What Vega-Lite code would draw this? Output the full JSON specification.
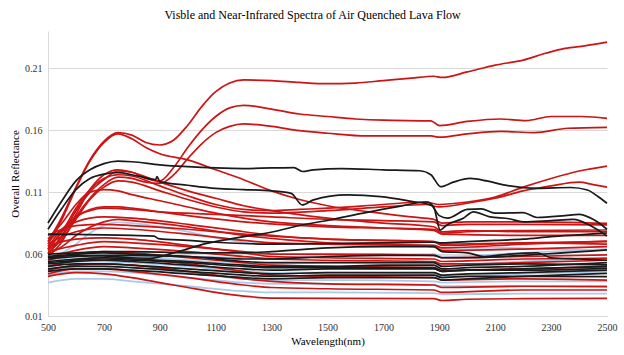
{
"$schema":"https://vega.github.io/schema/vega-lite/v6.json",
"width":559,"height":285,
"autosize":{"type":"none"},
"padding":{"left":48,"top":31,"right":17,"bottom":39},
"background":"white",
"title":{"text":"Visble and Near-Infrared Spectra of Air Quenched Lava Flow","font":"Times New Roman, Liberation Serif, serif","fontSize":12,"fontWeight":"normal","color":"#000000","anchor":"middle","dx":-15,"offset":9},
"config":{"view":{"stroke":null},"axis":{"labelFont":"Times New Roman, Liberation Serif, serif","labelFontSize":10,"labelColor":"#333333","titleFont":"Times New Roman, Liberation Serif, serif","titleFontSize":11,"titleFontWeight":"normal","titleColor":"#000000","domainColor":"#d9d9d9","gridColor":"#d9d9d9","ticks":false}},
"data":{"values":[
{"s":"b1","x":500,"y":0.058},{"s":"b1","x":550,"y":0.061},{"s":"b1","x":600,"y":0.068},{"s":"b1","x":650,"y":0.077},{"s":"b1","x":700,"y":0.083},{"s":"b1","x":750,"y":0.0855},{"s":"b1","x":800,"y":0.085},{"s":"b1","x":900,"y":0.082},{"s":"b1","x":1000,"y":0.078},{"s":"b1","x":1100,"y":0.073},{"s":"b1","x":1200,"y":0.0695},{"s":"b1","x":1300,"y":0.068},{"s":"b1","x":1500,"y":0.068},{"s":"b1","x":1700,"y":0.068},{"s":"b1","x":1880,"y":0.067},{"s":"b1","x":1910,"y":0.065},{"s":"b1","x":2100,"y":0.065},{"s":"b1","x":2300,"y":0.064},{"s":"b1","x":2500,"y":0.063},
{"s":"b2","x":500,"y":0.037},{"s":"b2","x":600,"y":0.04},{"s":"b2","x":700,"y":0.04},{"s":"b2","x":800,"y":0.038},{"s":"b2","x":1000,"y":0.034},{"s":"b2","x":1200,"y":0.03},{"s":"b2","x":1300,"y":0.029},{"s":"b2","x":1500,"y":0.029},{"s":"b2","x":1880,"y":0.0285},{"s":"b2","x":1910,"y":0.0275},{"s":"b2","x":2200,"y":0.028},{"s":"b2","x":2500,"y":0.028},
{"s":"b3","x":500,"y":0.043},{"s":"b3","x":600,"y":0.046},{"s":"b3","x":700,"y":0.046},{"s":"b3","x":800,"y":0.045},{"s":"b3","x":1000,"y":0.041},{"s":"b3","x":1200,"y":0.037},{"s":"b3","x":1300,"y":0.036},{"s":"b3","x":1500,"y":0.036},{"s":"b3","x":1880,"y":0.035},{"s":"b3","x":1910,"y":0.034},{"s":"b3","x":2200,"y":0.034},{"s":"b3","x":2500,"y":0.034},
{"s":"b4","x":500,"y":0.05},{"s":"b4","x":600,"y":0.054},{"s":"b4","x":700,"y":0.054},{"s":"b4","x":800,"y":0.053},{"s":"b4","x":1000,"y":0.05},{"s":"b4","x":1200,"y":0.046},{"s":"b4","x":1300,"y":0.045},{"s":"b4","x":1500,"y":0.045},{"s":"b4","x":1880,"y":0.044},{"s":"b4","x":1910,"y":0.042},{"s":"b4","x":2200,"y":0.044},{"s":"b4","x":2500,"y":0.046},
{"s":"b5","x":500,"y":0.054},{"s":"b5","x":600,"y":0.058},{"s":"b5","x":700,"y":0.059},{"s":"b5","x":800,"y":0.058},{"s":"b5","x":1000,"y":0.055},{"s":"b5","x":1200,"y":0.052},{"s":"b5","x":1300,"y":0.052},{"s":"b5","x":1500,"y":0.053},{"s":"b5","x":1880,"y":0.053},{"s":"b5","x":1910,"y":0.051},{"s":"b5","x":2200,"y":0.054},{"s":"b5","x":2500,"y":0.057},
{"s":"b6","x":500,"y":0.046},{"s":"b6","x":600,"y":0.05},{"s":"b6","x":700,"y":0.05},{"s":"b6","x":800,"y":0.049},{"s":"b6","x":1000,"y":0.045},{"s":"b6","x":1200,"y":0.04},{"s":"b6","x":1300,"y":0.039},{"s":"b6","x":1500,"y":0.039},{"s":"b6","x":1880,"y":0.038},{"s":"b6","x":1910,"y":0.037},{"s":"b6","x":2200,"y":0.038},{"s":"b6","x":2500,"y":0.038},
{"s":"b7","x":500,"y":0.052},{"s":"b7","x":600,"y":0.056},{"s":"b7","x":700,"y":0.058},{"s":"b7","x":800,"y":0.058},{"s":"b7","x":1000,"y":0.058},{"s":"b7","x":1200,"y":0.057},{"s":"b7","x":1300,"y":0.057},{"s":"b7","x":1500,"y":0.059},{"s":"b7","x":1880,"y":0.06},{"s":"b7","x":1910,"y":0.058},{"s":"b7","x":2200,"y":0.061},{"s":"b7","x":2500,"y":0.064},
{"s":"r1","x":500,"y":0.07},{"s":"r1","x":550,"y":0.09},{"s":"r1","x":600,"y":0.114},{"s":"r1","x":650,"y":0.136},{"s":"r1","x":700,"y":0.151},{"s":"r1","x":750,"y":0.158},{"s":"r1","x":800,"y":0.156},{"s":"r1","x":850,"y":0.15},{"s":"r1","x":900,"y":0.148},{"s":"r1","x":950,"y":0.152},{"s":"r1","x":1000,"y":0.164},{"s":"r1","x":1050,"y":0.179},{"s":"r1","x":1100,"y":0.191},{"s":"r1","x":1150,"y":0.198},{"s":"r1","x":1200,"y":0.2005},{"s":"r1","x":1300,"y":0.2},{"s":"r1","x":1400,"y":0.1985},{"s":"r1","x":1500,"y":0.1975},{"s":"r1","x":1600,"y":0.198},{"s":"r1","x":1700,"y":0.2},{"s":"r1","x":1800,"y":0.202},{"s":"r1","x":1880,"y":0.2035},{"s":"r1","x":1910,"y":0.2025},{"s":"r1","x":2000,"y":0.207},{"s":"r1","x":2100,"y":0.2125},{"s":"r1","x":2200,"y":0.2165},{"s":"r1","x":2280,"y":0.222},{"s":"r1","x":2350,"y":0.226},{"s":"r1","x":2420,"y":0.228},{"s":"r1","x":2500,"y":0.231},
{"s":"r4","x":500,"y":0.068},{"s":"r4","x":550,"y":0.088},{"s":"r4","x":600,"y":0.113},{"s":"r4","x":650,"y":0.135},{"s":"r4","x":700,"y":0.15},{"s":"r4","x":750,"y":0.157},{"s":"r4","x":800,"y":0.153},{"s":"r4","x":850,"y":0.146},{"s":"r4","x":900,"y":0.141},{"s":"r4","x":1000,"y":0.136},{"s":"r4","x":1100,"y":0.128},{"s":"r4","x":1200,"y":0.12},{"s":"r4","x":1300,"y":0.111},{"s":"r4","x":1400,"y":0.104},{"s":"r4","x":1500,"y":0.099},{"s":"r4","x":1650,"y":0.094},{"s":"r4","x":1800,"y":0.09},{"s":"r4","x":1880,"y":0.088},{"s":"r4","x":1910,"y":0.085},{"s":"r4","x":2000,"y":0.086},{"s":"r4","x":2200,"y":0.086},{"s":"r4","x":2500,"y":0.0848},
{"s":"r2","x":500,"y":0.06},{"s":"r2","x":550,"y":0.075},{"s":"r2","x":600,"y":0.095},{"s":"r2","x":650,"y":0.11},{"s":"r2","x":700,"y":0.12},{"s":"r2","x":750,"y":0.127},{"s":"r2","x":800,"y":0.126},{"s":"r2","x":850,"y":0.121},{"s":"r2","x":900,"y":0.119},{"s":"r2","x":950,"y":0.13},{"s":"r2","x":1000,"y":0.146},{"s":"r2","x":1050,"y":0.16},{"s":"r2","x":1100,"y":0.171},{"s":"r2","x":1150,"y":0.178},{"s":"r2","x":1200,"y":0.18},{"s":"r2","x":1300,"y":0.177},{"s":"r2","x":1400,"y":0.173},{"s":"r2","x":1500,"y":0.171},{"s":"r2","x":1600,"y":0.169},{"s":"r2","x":1700,"y":0.168},{"s":"r2","x":1870,"y":0.1675},{"s":"r2","x":1900,"y":0.1637},{"s":"r2","x":2000,"y":0.167},{"s":"r2","x":2120,"y":0.169},{"s":"r2","x":2210,"y":0.1677},{"s":"r2","x":2300,"y":0.171},{"s":"r2","x":2410,"y":0.171},{"s":"r2","x":2500,"y":0.1695},
{"s":"r3","x":500,"y":0.058},{"s":"r3","x":550,"y":0.07},{"s":"r3","x":600,"y":0.09},{"s":"r3","x":650,"y":0.105},{"s":"r3","x":700,"y":0.116},{"s":"r3","x":750,"y":0.122},{"s":"r3","x":800,"y":0.121},{"s":"r3","x":850,"y":0.118},{"s":"r3","x":900,"y":0.117},{"s":"r3","x":950,"y":0.124},{"s":"r3","x":1000,"y":0.137},{"s":"r3","x":1050,"y":0.149},{"s":"r3","x":1100,"y":0.158},{"s":"r3","x":1150,"y":0.163},{"s":"r3","x":1200,"y":0.165},{"s":"r3","x":1300,"y":0.163},{"s":"r3","x":1400,"y":0.1596},{"s":"r3","x":1500,"y":0.1575},{"s":"r3","x":1640,"y":0.1553},{"s":"r3","x":1870,"y":0.1553},{"s":"r3","x":1900,"y":0.1543},{"s":"r3","x":2000,"y":0.157},{"s":"r3","x":2120,"y":0.159},{"s":"r3","x":2240,"y":0.158},{"s":"r3","x":2360,"y":0.1615},{"s":"r3","x":2500,"y":0.1623},
{"s":"r5","x":500,"y":0.064},{"s":"r5","x":550,"y":0.078},{"s":"r5","x":600,"y":0.097},{"s":"r5","x":650,"y":0.112},{"s":"r5","x":700,"y":0.121},{"s":"r5","x":750,"y":0.124},{"s":"r5","x":800,"y":0.123},{"s":"r5","x":900,"y":0.115},{"s":"r5","x":1000,"y":0.107},{"s":"r5","x":1100,"y":0.1},{"s":"r5","x":1200,"y":0.096},{"s":"r5","x":1300,"y":0.095},{"s":"r5","x":1400,"y":0.096},{"s":"r5","x":1500,"y":0.097},{"s":"r5","x":1700,"y":0.1},{"s":"r5","x":1850,"y":0.102},{"s":"r5","x":1900,"y":0.1},{"s":"r5","x":2000,"y":0.102},{"s":"r5","x":2100,"y":0.106},{"s":"r5","x":2200,"y":0.114},{"s":"r5","x":2300,"y":0.121},{"s":"r5","x":2400,"y":0.127},{"s":"r5","x":2500,"y":0.131},
{"s":"r6","x":500,"y":0.061},{"s":"r6","x":550,"y":0.072},{"s":"r6","x":600,"y":0.088},{"s":"r6","x":650,"y":0.104},{"s":"r6","x":700,"y":0.114},{"s":"r6","x":750,"y":0.119},{"s":"r6","x":800,"y":0.118},{"s":"r6","x":900,"y":0.111},{"s":"r6","x":1000,"y":0.104},{"s":"r6","x":1100,"y":0.098},{"s":"r6","x":1200,"y":0.094},{"s":"r6","x":1300,"y":0.093},{"s":"r6","x":1500,"y":0.095},{"s":"r6","x":1700,"y":0.098},{"s":"r6","x":1850,"y":0.1},{"s":"r6","x":1900,"y":0.098},{"s":"r6","x":2000,"y":0.101},{"s":"r6","x":2100,"y":0.105},{"s":"r6","x":2200,"y":0.111},{"s":"r6","x":2300,"y":0.115},{"s":"r6","x":2400,"y":0.118},{"s":"r6","x":2450,"y":0.116},{"s":"r6","x":2500,"y":0.114},
{"s":"r7","x":500,"y":0.063},{"s":"r7","x":550,"y":0.074},{"s":"r7","x":600,"y":0.092},{"s":"r7","x":650,"y":0.112},{"s":"r7","x":700,"y":0.124},{"s":"r7","x":750,"y":0.128},{"s":"r7","x":800,"y":0.126},{"s":"r7","x":900,"y":0.118},{"s":"r7","x":1000,"y":0.111},{"s":"r7","x":1100,"y":0.105},{"s":"r7","x":1200,"y":0.099},{"s":"r7","x":1300,"y":0.095},{"s":"r7","x":1500,"y":0.089},{"s":"r7","x":1700,"y":0.085},{"s":"r7","x":1880,"y":0.082},{"s":"r7","x":1910,"y":0.078},{"s":"r7","x":2000,"y":0.079},{"s":"r7","x":2200,"y":0.078},{"s":"r7","x":2500,"y":0.078},
{"s":"r8","x":500,"y":0.064},{"s":"r8","x":550,"y":0.078},{"s":"r8","x":600,"y":0.09},{"s":"r8","x":650,"y":0.095},{"s":"r8","x":700,"y":0.097},{"s":"r8","x":800,"y":0.096},{"s":"r8","x":900,"y":0.094},{"s":"r8","x":1100,"y":0.092},{"s":"r8","x":1300,"y":0.09},{"s":"r8","x":1500,"y":0.088},{"s":"r8","x":1700,"y":0.087},{"s":"r8","x":1880,"y":0.086},{"s":"r8","x":1910,"y":0.083},{"s":"r8","x":2000,"y":0.084},{"s":"r8","x":2200,"y":0.084},{"s":"r8","x":2500,"y":0.0835},
{"s":"r9","x":500,"y":0.066},{"s":"r9","x":550,"y":0.08},{"s":"r9","x":600,"y":0.09},{"s":"r9","x":650,"y":0.096},{"s":"r9","x":700,"y":0.098},{"s":"r9","x":750,"y":0.098},{"s":"r9","x":800,"y":0.097},{"s":"r9","x":900,"y":0.094},{"s":"r9","x":1000,"y":0.091},{"s":"r9","x":1200,"y":0.086},{"s":"r9","x":1500,"y":0.082},{"s":"r9","x":1700,"y":0.081},{"s":"r9","x":1880,"y":0.08},{"s":"r9","x":1910,"y":0.077},{"s":"r9","x":2000,"y":0.078},{"s":"r9","x":2200,"y":0.079},{"s":"r9","x":2500,"y":0.0794},
{"s":"r10","x":500,"y":0.07},{"s":"r10","x":550,"y":0.08},{"s":"r10","x":600,"y":0.086},{"s":"r10","x":700,"y":0.09},{"s":"r10","x":800,"y":0.089},{"s":"r10","x":1000,"y":0.084},{"s":"r10","x":1200,"y":0.078},{"s":"r10","x":1300,"y":0.075},{"s":"r10","x":1500,"y":0.072},{"s":"r10","x":1700,"y":0.071},{"s":"r10","x":1880,"y":0.07},{"s":"r10","x":1910,"y":0.067},{"s":"r10","x":2200,"y":0.069},{"s":"r10","x":2500,"y":0.07},
{"s":"r11","x":500,"y":0.06},{"s":"r11","x":550,"y":0.066},{"s":"r11","x":600,"y":0.075},{"s":"r11","x":700,"y":0.086},{"s":"r11","x":750,"y":0.088},{"s":"r11","x":800,"y":0.087},{"s":"r11","x":1000,"y":0.082},{"s":"r11","x":1200,"y":0.075},{"s":"r11","x":1500,"y":0.069},{"s":"r11","x":1880,"y":0.066},{"s":"r11","x":1910,"y":0.063},{"s":"r11","x":2200,"y":0.064},{"s":"r11","x":2500,"y":0.066},
{"s":"r12","x":500,"y":0.068},{"s":"r12","x":550,"y":0.074},{"s":"r12","x":600,"y":0.078},{"s":"r12","x":700,"y":0.081},{"s":"r12","x":800,"y":0.08},{"s":"r12","x":1000,"y":0.076},{"s":"r12","x":1200,"y":0.071},{"s":"r12","x":1300,"y":0.069},{"s":"r12","x":1500,"y":0.068},{"s":"r12","x":1880,"y":0.067},{"s":"r12","x":1910,"y":0.065},{"s":"r12","x":2200,"y":0.068},{"s":"r12","x":2500,"y":0.0705},
{"s":"r13","x":500,"y":0.062},{"s":"r13","x":600,"y":0.067},{"s":"r13","x":700,"y":0.07},{"s":"r13","x":800,"y":0.069},{"s":"r13","x":1000,"y":0.066},{"s":"r13","x":1200,"y":0.062},{"s":"r13","x":1300,"y":0.06},{"s":"r13","x":1500,"y":0.06},{"s":"r13","x":1880,"y":0.059},{"s":"r13","x":1910,"y":0.057},{"s":"r13","x":2200,"y":0.058},{"s":"r13","x":2500,"y":0.0593},
{"s":"r14","x":500,"y":0.066},{"s":"r14","x":550,"y":0.07},{"s":"r14","x":600,"y":0.072},{"s":"r14","x":700,"y":0.073},{"s":"r14","x":800,"y":0.072},{"s":"r14","x":1000,"y":0.067},{"s":"r14","x":1200,"y":0.061},{"s":"r14","x":1300,"y":0.058},{"s":"r14","x":1500,"y":0.057},{"s":"r14","x":1880,"y":0.056},{"s":"r14","x":1910,"y":0.054},{"s":"r14","x":2200,"y":0.056},{"s":"r14","x":2500,"y":0.0566},
{"s":"r15","x":500,"y":0.057},{"s":"r15","x":600,"y":0.063},{"s":"r15","x":700,"y":0.066},{"s":"r15","x":800,"y":0.065},{"s":"r15","x":1000,"y":0.062},{"s":"r15","x":1200,"y":0.058},{"s":"r15","x":1300,"y":0.056},{"s":"r15","x":1500,"y":0.055},{"s":"r15","x":1880,"y":0.054},{"s":"r15","x":1910,"y":0.052},{"s":"r15","x":2200,"y":0.053},{"s":"r15","x":2500,"y":0.055},
{"s":"r16","x":500,"y":0.055},{"s":"r16","x":600,"y":0.06},{"s":"r16","x":700,"y":0.062},{"s":"r16","x":800,"y":0.061},{"s":"r16","x":1000,"y":0.057},{"s":"r16","x":1200,"y":0.053},{"s":"r16","x":1300,"y":0.051},{"s":"r16","x":1500,"y":0.05},{"s":"r16","x":1880,"y":0.049},{"s":"r16","x":1910,"y":0.047},{"s":"r16","x":2200,"y":0.048},{"s":"r16","x":2500,"y":0.0498},
{"s":"r17","x":500,"y":0.05},{"s":"r17","x":600,"y":0.055},{"s":"r17","x":700,"y":0.057},{"s":"r17","x":800,"y":0.056},{"s":"r17","x":1000,"y":0.052},{"s":"r17","x":1200,"y":0.046},{"s":"r17","x":1300,"y":0.043},{"s":"r17","x":1500,"y":0.042},{"s":"r17","x":1880,"y":0.041},{"s":"r17","x":1910,"y":0.039},{"s":"r17","x":2200,"y":0.04},{"s":"r17","x":2500,"y":0.039},
{"s":"r18","x":500,"y":0.047},{"s":"r18","x":600,"y":0.051},{"s":"r18","x":700,"y":0.052},{"s":"r18","x":800,"y":0.051},{"s":"r18","x":1000,"y":0.046},{"s":"r18","x":1200,"y":0.04},{"s":"r18","x":1300,"y":0.038},{"s":"r18","x":1500,"y":0.036},{"s":"r18","x":1880,"y":0.035},{"s":"r18","x":1910,"y":0.033},{"s":"r18","x":2200,"y":0.034},{"s":"r18","x":2500,"y":0.0337},
{"s":"r19","x":500,"y":0.044},{"s":"r19","x":600,"y":0.048},{"s":"r19","x":700,"y":0.048},{"s":"r19","x":800,"y":0.046},{"s":"r19","x":1000,"y":0.041},{"s":"r19","x":1200,"y":0.035},{"s":"r19","x":1300,"y":0.033},{"s":"r19","x":1500,"y":0.032},{"s":"r19","x":1880,"y":0.031},{"s":"r19","x":1910,"y":0.029},{"s":"r19","x":2200,"y":0.031},{"s":"r19","x":2500,"y":0.031},
{"s":"r20","x":500,"y":0.042},{"s":"r20","x":600,"y":0.045},{"s":"r20","x":700,"y":0.044},{"s":"r20","x":800,"y":0.041},{"s":"r20","x":900,"y":0.037},{"s":"r20","x":1000,"y":0.033},{"s":"r20","x":1100,"y":0.029},{"s":"r20","x":1200,"y":0.026},{"s":"r20","x":1300,"y":0.0245},{"s":"r20","x":1500,"y":0.0243},{"s":"r20","x":1880,"y":0.024},{"s":"r20","x":1910,"y":0.0225},{"s":"r20","x":2000,"y":0.0235},{"s":"r20","x":2200,"y":0.024},{"s":"r20","x":2500,"y":0.0243},
{"s":"r21","x":500,"y":0.072},{"s":"r21","x":550,"y":0.085},{"s":"r21","x":600,"y":0.1},{"s":"r21","x":650,"y":0.11},{"s":"r21","x":700,"y":0.112},{"s":"r21","x":750,"y":0.111},{"s":"r21","x":800,"y":0.108},{"s":"r21","x":900,"y":0.103},{"s":"r21","x":1000,"y":0.098},{"s":"r21","x":1100,"y":0.093},{"s":"r21","x":1200,"y":0.089},{"s":"r21","x":1300,"y":0.086},{"s":"r21","x":1500,"y":0.083},{"s":"r21","x":1700,"y":0.081},{"s":"r21","x":1880,"y":0.079},{"s":"r21","x":1910,"y":0.076},{"s":"r21","x":2200,"y":0.075},{"s":"r21","x":2500,"y":0.075},
{"s":"r22","x":500,"y":0.075},{"s":"r22","x":550,"y":0.08},{"s":"r22","x":600,"y":0.083},{"s":"r22","x":700,"y":0.084},{"s":"r22","x":800,"y":0.083},{"s":"r22","x":1000,"y":0.08},{"s":"r22","x":1200,"y":0.076},{"s":"r22","x":1500,"y":0.072},{"s":"r22","x":1880,"y":0.07},{"s":"r22","x":1910,"y":0.068},{"s":"r22","x":2200,"y":0.069},{"s":"r22","x":2500,"y":0.068},
{"s":"k1","x":500,"y":0.085},{"s":"k1","x":550,"y":0.103},{"s":"k1","x":600,"y":0.119},{"s":"k1","x":650,"y":0.128},{"s":"k1","x":700,"y":0.133},{"s":"k1","x":750,"y":0.135},{"s":"k1","x":800,"y":0.1345},{"s":"k1","x":900,"y":0.132},{"s":"k1","x":1000,"y":0.1305},{"s":"k1","x":1100,"y":0.1295},{"s":"k1","x":1200,"y":0.129},{"s":"k1","x":1300,"y":0.1295},{"s":"k1","x":1380,"y":0.1298},{"s":"k1","x":1410,"y":0.1266},{"s":"k1","x":1450,"y":0.128},{"s":"k1","x":1550,"y":0.129},{"s":"k1","x":1700,"y":0.128},{"s":"k1","x":1830,"y":0.1272},{"s":"k1","x":1870,"y":0.124},{"s":"k1","x":1905,"y":0.1144},{"s":"k1","x":1950,"y":0.118},{"s":"k1","x":2010,"y":0.121},{"s":"k1","x":2070,"y":0.119},{"s":"k1","x":2130,"y":0.1158},{"s":"k1","x":2250,"y":0.113},{"s":"k1","x":2370,"y":0.1137},{"s":"k1","x":2430,"y":0.1117},{"s":"k1","x":2470,"y":0.106},{"s":"k1","x":2500,"y":0.101},
{"s":"k2","x":500,"y":0.08},{"s":"k2","x":550,"y":0.097},{"s":"k2","x":600,"y":0.112},{"s":"k2","x":650,"y":0.121},{"s":"k2","x":700,"y":0.1245},{"s":"k2","x":750,"y":0.1257},{"s":"k2","x":800,"y":0.124},{"s":"k2","x":850,"y":0.1215},{"s":"k2","x":885,"y":0.12},{"s":"k2","x":890,"y":0.1225},{"s":"k2","x":900,"y":0.1185},{"s":"k2","x":1000,"y":0.1155},{"s":"k2","x":1100,"y":0.113},{"s":"k2","x":1200,"y":0.112},{"s":"k2","x":1300,"y":0.111},{"s":"k2","x":1370,"y":0.109},{"s":"k2","x":1410,"y":0.0996},{"s":"k2","x":1450,"y":0.1037},{"s":"k2","x":1570,"y":0.1077},{"s":"k2","x":1690,"y":0.1063},{"s":"k2","x":1800,"y":0.1025},{"s":"k2","x":1870,"y":0.0996},{"s":"k2","x":1900,"y":0.091},{"s":"k2","x":1930,"y":0.089},{"s":"k2","x":2000,"y":0.096},{"s":"k2","x":2050,"y":0.0965},{"s":"k2","x":2100,"y":0.093},{"s":"k2","x":2200,"y":0.0935},{"s":"k2","x":2250,"y":0.0895},{"s":"k2","x":2350,"y":0.091},{"s":"k2","x":2400,"y":0.092},{"s":"k2","x":2450,"y":0.088},{"s":"k2","x":2500,"y":0.08},
{"s":"k3","x":500,"y":0.057},{"s":"k3","x":600,"y":0.059},{"s":"k3","x":700,"y":0.0585},{"s":"k3","x":800,"y":0.057},{"s":"k3","x":865,"y":0.0566},{"s":"k3","x":950,"y":0.061},{"s":"k3","x":1068,"y":0.0686},{"s":"k3","x":1200,"y":0.074},{"s":"k3","x":1306,"y":0.078},{"s":"k3","x":1400,"y":0.083},{"s":"k3","x":1509,"y":0.0875},{"s":"k3","x":1628,"y":0.093},{"s":"k3","x":1747,"y":0.098},{"s":"k3","x":1855,"y":0.102},{"s":"k3","x":1880,"y":0.098},{"s":"k3","x":1903,"y":0.0794},{"s":"k3","x":1927,"y":0.0835},{"s":"k3","x":1986,"y":0.0889},{"s":"k3","x":2022,"y":0.094},{"s":"k3","x":2081,"y":0.09},{"s":"k3","x":2150,"y":0.0885},{"s":"k3","x":2200,"y":0.086},{"s":"k3","x":2300,"y":0.087},{"s":"k3","x":2380,"y":0.088},{"s":"k3","x":2440,"y":0.083},{"s":"k3","x":2500,"y":0.0745},
{"s":"k4","x":500,"y":0.076},{"s":"k4","x":600,"y":0.0758},{"s":"k4","x":700,"y":0.0755},{"s":"k4","x":800,"y":0.075},{"s":"k4","x":880,"y":0.0745},{"s":"k4","x":895,"y":0.0725},{"s":"k4","x":1000,"y":0.071},{"s":"k4","x":1100,"y":0.0695},{"s":"k4","x":1200,"y":0.0685},{"s":"k4","x":1300,"y":0.068},{"s":"k4","x":1500,"y":0.0685},{"s":"k4","x":1700,"y":0.069},{"s":"k4","x":1880,"y":0.0695},{"s":"k4","x":1910,"y":0.069},{"s":"k4","x":2000,"y":0.07},{"s":"k4","x":2100,"y":0.071},{"s":"k4","x":2200,"y":0.072},{"s":"k4","x":2300,"y":0.074},{"s":"k4","x":2400,"y":0.0755},{"s":"k4","x":2500,"y":0.077},
{"s":"k5","x":500,"y":0.06},{"s":"k5","x":600,"y":0.061},{"s":"k5","x":700,"y":0.062},{"s":"k5","x":800,"y":0.062},{"s":"k5","x":1000,"y":0.061},{"s":"k5","x":1200,"y":0.061},{"s":"k5","x":1300,"y":0.062},{"s":"k5","x":1500,"y":0.065},{"s":"k5","x":1700,"y":0.066},{"s":"k5","x":1880,"y":0.066},{"s":"k5","x":1910,"y":0.062},{"s":"k5","x":2000,"y":0.061},{"s":"k5","x":2060,"y":0.058},{"s":"k5","x":2150,"y":0.06},{"s":"k5","x":2250,"y":0.061},{"s":"k5","x":2300,"y":0.057},{"s":"k5","x":2400,"y":0.056},{"s":"k5","x":2500,"y":0.055},
{"s":"k6","x":500,"y":0.056},{"s":"k6","x":600,"y":0.058},{"s":"k6","x":700,"y":0.059},{"s":"k6","x":800,"y":0.059},{"s":"k6","x":1000,"y":0.058},{"s":"k6","x":1200,"y":0.056},{"s":"k6","x":1300,"y":0.056},{"s":"k6","x":1500,"y":0.058},{"s":"k6","x":1700,"y":0.059},{"s":"k6","x":1880,"y":0.059},{"s":"k6","x":1910,"y":0.057},{"s":"k6","x":2000,"y":0.057},{"s":"k6","x":2200,"y":0.059},{"s":"k6","x":2500,"y":0.0633},
{"s":"k7","x":500,"y":0.054},{"s":"k7","x":600,"y":0.056},{"s":"k7","x":700,"y":0.057},{"s":"k7","x":800,"y":0.056},{"s":"k7","x":1000,"y":0.054},{"s":"k7","x":1200,"y":0.051},{"s":"k7","x":1300,"y":0.05},{"s":"k7","x":1500,"y":0.05},{"s":"k7","x":1700,"y":0.051},{"s":"k7","x":1880,"y":0.051},{"s":"k7","x":1910,"y":0.048},{"s":"k7","x":2000,"y":0.049},{"s":"k7","x":2200,"y":0.05},{"s":"k7","x":2500,"y":0.053},
{"s":"k8","x":500,"y":0.052},{"s":"k8","x":600,"y":0.054},{"s":"k8","x":700,"y":0.055},{"s":"k8","x":800,"y":0.054},{"s":"k8","x":1000,"y":0.051},{"s":"k8","x":1200,"y":0.048},{"s":"k8","x":1300,"y":0.047},{"s":"k8","x":1500,"y":0.048},{"s":"k8","x":1880,"y":0.048},{"s":"k8","x":1910,"y":0.046},{"s":"k8","x":2000,"y":0.047},{"s":"k8","x":2200,"y":0.048},{"s":"k8","x":2500,"y":0.05},
{"s":"k9","x":500,"y":0.05},{"s":"k9","x":600,"y":0.052},{"s":"k9","x":700,"y":0.052},{"s":"k9","x":800,"y":0.051},{"s":"k9","x":1000,"y":0.048},{"s":"k9","x":1200,"y":0.045},{"s":"k9","x":1300,"y":0.044},{"s":"k9","x":1500,"y":0.045},{"s":"k9","x":1880,"y":0.045},{"s":"k9","x":1910,"y":0.043},{"s":"k9","x":2000,"y":0.044},{"s":"k9","x":2200,"y":0.045},{"s":"k9","x":2500,"y":0.047},
{"s":"k10","x":500,"y":0.048},{"s":"k10","x":600,"y":0.05},{"s":"k10","x":700,"y":0.05},{"s":"k10","x":800,"y":0.049},{"s":"k10","x":1000,"y":0.046},{"s":"k10","x":1200,"y":0.043},{"s":"k10","x":1300,"y":0.042},{"s":"k10","x":1500,"y":0.043},{"s":"k10","x":1880,"y":0.043},{"s":"k10","x":1910,"y":0.041},{"s":"k10","x":2000,"y":0.042},{"s":"k10","x":2200,"y":0.042},{"s":"k10","x":2500,"y":0.0417},
{"s":"k11","x":500,"y":0.053},{"s":"k11","x":600,"y":0.055},{"s":"k11","x":700,"y":0.056},{"s":"k11","x":800,"y":0.055},{"s":"k11","x":1000,"y":0.053},{"s":"k11","x":1200,"y":0.05},{"s":"k11","x":1300,"y":0.049},{"s":"k11","x":1500,"y":0.049},{"s":"k11","x":1880,"y":0.049},{"s":"k11","x":1910,"y":0.046},{"s":"k11","x":2000,"y":0.047},{"s":"k11","x":2200,"y":0.047},{"s":"k11","x":2500,"y":0.0485},
{"s":"k12","x":500,"y":0.046},{"s":"k12","x":600,"y":0.048},{"s":"k12","x":700,"y":0.048},{"s":"k12","x":800,"y":0.047},{"s":"k12","x":1000,"y":0.044},{"s":"k12","x":1200,"y":0.041},{"s":"k12","x":1300,"y":0.04},{"s":"k12","x":1500,"y":0.041},{"s":"k12","x":1880,"y":0.041},{"s":"k12","x":1910,"y":0.039},{"s":"k12","x":2000,"y":0.04},{"s":"k12","x":2200,"y":0.042},{"s":"k12","x":2500,"y":0.0445},
{"s":"k13","x":500,"y":0.058},{"s":"k13","x":600,"y":0.06},{"s":"k13","x":700,"y":0.061},{"s":"k13","x":800,"y":0.06},{"s":"k13","x":1000,"y":0.058},{"s":"k13","x":1200,"y":0.054},{"s":"k13","x":1300,"y":0.053},{"s":"k13","x":1500,"y":0.053},{"s":"k13","x":1880,"y":0.053},{"s":"k13","x":1910,"y":0.05},{"s":"k13","x":2000,"y":0.051},{"s":"k13","x":2200,"y":0.052},{"s":"k13","x":2500,"y":0.0512}
]},
"encoding":{
"x":{"field":"x","type":"quantitative","scale":{"domain":[500,2500],"nice":false,"zero":false},"axis":{"title":"Wavelength(nm)","values":[500,700,900,1100,1300,1500,1700,1900,2100,2300,2500],"grid":false,"labelPadding":6,"titlePadding":3,"format":"d","labelFlush":false}},
"y":{"field":"y","type":"quantitative","scale":{"domain":[0.01,0.24],"nice":false,"zero":false},"axis":{"title":"Overall Reflectance","values":[0.01,0.06,0.11,0.16,0.21],"format":".2f","grid":true,"labelPadding":6,"titlePadding":4}},
"detail":{"field":"s","type":"nominal"}
},
"layer":[
{"transform":[{"filter":"datum.s[0]=='b'"}],"mark":{"type":"line","color":"#a9cbe9","strokeWidth":1.8,"interpolate":"monotone"}},
{"transform":[{"filter":"datum.s[0]=='r'"}],"mark":{"type":"line","color":"#cc1414","strokeWidth":1.7,"interpolate":"monotone"}},
{"transform":[{"filter":"datum.s[0]=='k'"}],"mark":{"type":"line","color":"#1a1a1a","strokeWidth":1.7,"interpolate":"monotone"}}
]
}
